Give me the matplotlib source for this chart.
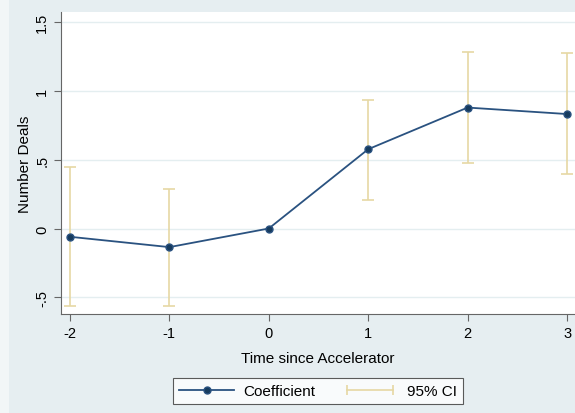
import numpy as np
import matplotlib.pyplot as plt
from matplotlib.patches import Rectangle
from matplotlib.lines import Line2D
from matplotlib.legend_handler import HandlerLine2D

plt.rcParams['font.family'] = ['Liberation Sans', 'DejaVu Sans']

# event time, coefficient and 95% CI
periods = [-2, -1, 0, 1, 2, 3]
coef = [-0.06, -0.135, 0.0, 0.575, 0.877, 0.83]
ci_low = [-0.56, -0.56, 0.0, 0.21, 0.478, 0.396]
ci_high = [0.449, 0.29, 0.0, 0.935, 1.278, 1.27]

yticks = [-0.5, 0, 0.5, 1, 1.5]
ylabels = ['-.5', '0', '.5', '1', '1.5']

navy = '#2a5280'
tan = '#e6d8a4'
bg = '#e6eef1'

fig = plt.figure(figsize=(5.75, 4.14), dpi=100)
fig.patch.set_facecolor(bg)
fig.patches.append(Rectangle((0, 0), 9 / 575, 1, transform=fig.transFigure,
                             facecolor='#f2f6f7', edgecolor='none', zorder=0))

ax = fig.add_axes([61 / 575, 1 - 315 / 414, 1 - 61 / 575, (315 - 13) / 414])
ax.set_facecolor('white')

lo = np.array(coef) - np.array(ci_low)
hi = np.array(ci_high) - np.array(coef)
ci_idx = [i for i in range(len(periods)) if periods[i] != 0]
ax.errorbar([periods[i] for i in ci_idx], [coef[i] for i in ci_idx],
            yerr=[lo[ci_idx], hi[ci_idx]], fmt='none', ecolor=tan,
            elinewidth=1.2, capsize=4, capthick=1.2, zorder=2)
ax.plot(periods, coef, color=navy, lw=1.3, marker='o', ms=5,
        markerfacecolor='#163b5e', markeredgecolor=navy, zorder=3)

ax.set_xlim(-2.09, 3.08)
ax.set_ylim(-0.62, 1.57)
ax.set_yticks(yticks)
ax.set_yticklabels(ylabels, rotation=90, va='center')
ax.set_xticks(periods)
ax.set_xticklabels(['-2', '-1', '0', '1', '2', '3'])
ax.grid(axis='y', color='#e4eef0', lw=1)
ax.set_axisbelow(True)
ax.tick_params(direction='out', length=5, color='#666666', labelsize=10.5)

for s in ['top', 'right']:
    ax.spines[s].set_visible(False)
for s in ['left', 'bottom']:
    ax.spines[s].set_color('#666666')

ax.set_ylabel('Number Deals', fontsize=11, labelpad=2)
ax.set_xlabel('Time since Accelerator', fontsize=11, labelpad=8)

h_coef = Line2D([], [], color=navy, lw=1.3, marker='o', ms=5,
                markerfacecolor='#163b5e', markeredgecolor=navy)
h_ci = Line2D([], [], color=tan, lw=1.2, marker='|', ms=7, mew=1.2)
leg = fig.legend([h_coef, h_ci], ['Coefficient', '95% CI'], loc='center',
                 bbox_to_anchor=(318 / 575, 1 - 392 / 414),
                 handler_map={h_ci: HandlerLine2D(numpoints=2)},
                 ncol=2, frameon=True, fancybox=False, edgecolor='#333333',
                 fontsize=11, handlelength=3.6, handletextpad=0.6,
                 columnspacing=1.8, borderpad=0.4)
leg.get_frame().set_linewidth(0.8)

fig.savefig('out.png', dpi=100, facecolor=fig.get_facecolor())
